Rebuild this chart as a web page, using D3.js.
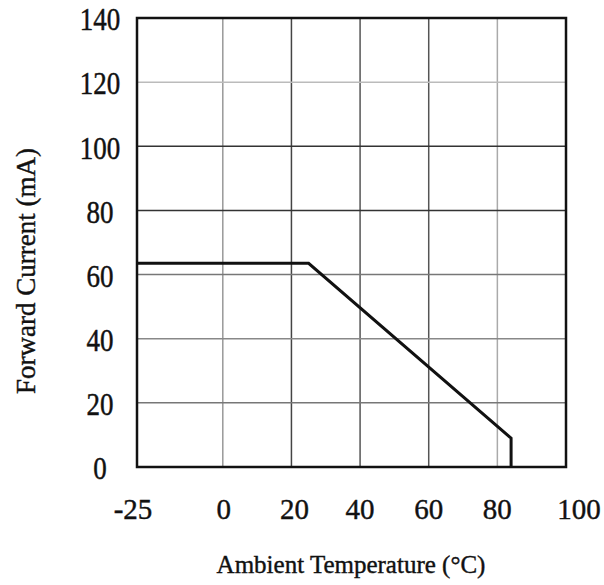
<!DOCTYPE html>
<html>
<head>
<meta charset="utf-8">
<script src="https://cdn.jsdelivr.net/npm/d3@7"></script>
<style>
  html, body { margin: 0; padding: 0; background: #fff; }
  text { font-family: "Liberation Serif", "Times New Roman", serif; fill: #111; stroke: #111; stroke-width: 0.4px; }
</style>
</head>
<body>
<div id="chart"></div>
<script>
    // derating curve: ambient temperature (°C) vs max forward current (mA)
    const temps    = [-25, 25, 84, 84];
    const currents = [63.5, 63.5, 9, 0];

    const xTicks = [-25, 0, 20, 40, 60, 80, 100];
    const yTicks = [0, 20, 40, 60, 80, 100, 120, 140];
    const xGrid  = [0, 20, 40, 60, 80];
    const yGrid  = [20, 40, 60, 80, 100, 120];

    const width  = 604;
    const height = 585;

    const x = d3.scaleLinear().domain([-25, 100]).range([137, 566]);
    const y = d3.scaleLinear().domain([0, 140]).range([467, 18]);

    // scanned look: some grid lines came out darker than others
    const xGridColor = { 0: '#999', 20: '#444', 40: '#555', 60: '#555', 80: '#aaa' };
    const yGridColor = { 20: '#777', 40: '#888', 60: '#777', 80: '#333', 100: '#333', 120: '#bbb' };

    const svg = d3.select('#chart')
      .append('svg')
      .attr('width', width)
      .attr('height', height);

    // grid
    svg.selectAll('.vgrid')
      .data(xGrid)
      .join('line')
        .attr('class', 'vgrid')
        .attr('x1', d => x(d)).attr('x2', d => x(d))
        .attr('y1', y(140)).attr('y2', y(0))
        .attr('stroke', d => xGridColor[d])
        .attr('stroke-width', 1.5);

    svg.selectAll('.hgrid')
      .data(yGrid)
      .join('line')
        .attr('class', 'hgrid')
        .attr('x1', x(-25)).attr('x2', x(100))
        .attr('y1', d => y(d)).attr('y2', d => y(d))
        .attr('stroke', d => yGridColor[d])
        .attr('stroke-width', 1.5);

    // frame
    svg.append('rect')
      .attr('x', x(-25)).attr('y', y(140))
      .attr('width', x(100) - x(-25))
      .attr('height', y(0) - y(140))
      .attr('fill', 'none')
      .attr('stroke', '#111')
      .attr('stroke-width', 2.5);

    // the curve
    const pts = temps.map((t, i) => [t, currents[i]]);
    svg.append('path')
      .datum(pts)
      .attr('fill', 'none')
      .attr('stroke', '#111')
      .attr('stroke-width', 3)
      .attr('stroke-linejoin', 'miter')
      .attr('d', d3.line().x(d => x(d[0])).y(d => y(d[1])));

    // tick labels
    const xNudge = { '-25': -4, '0': 1, '20': 3, '100': 13 };
    svg.selectAll('.xlab')
      .data(xTicks)
      .join('text')
        .attr('class', 'xlab')
        .attr('x', d => x(d) + (xNudge[d] || 0))
        .attr('y', 519)
        .attr('text-anchor', 'middle')
        .style('font-size', '29px')
        .text(d => d);

    // y labels in the scan are a bit taller than wide, hence the scale
    svg.selectAll('.ylab')
      .data(yTicks)
      .join('text')
        .attr('class', 'ylab')
        .attr('transform', d => `translate(100,${y(d) + 1}) scale(1,1.2)`)
        .attr('text-anchor', 'middle')
        .attr('dy', '0.35em')
        .style('font-size', '27px')
        .text(d => d);

    // axis titles
    svg.append('text')
      .attr('x', 351).attr('y', 573)
      .attr('text-anchor', 'middle')
      .style('font-size', '25px')
      .text('Ambient Temperature (°C)');

    svg.append('text')
      .attr('transform', 'translate(35,271) rotate(-90)')
      .attr('text-anchor', 'middle')
      .style('font-size', '27px')
      .text('Forward Current (mA)');
</script>
</body>
</html>
